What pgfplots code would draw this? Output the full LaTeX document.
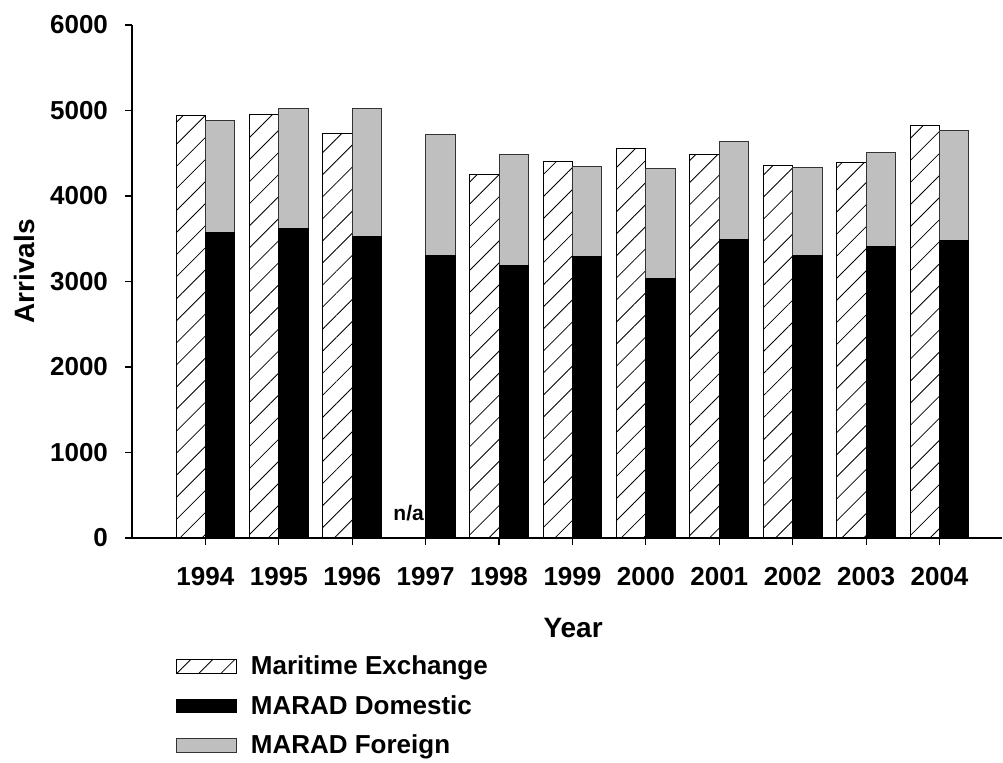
\documentclass[border=0pt]{standalone}
\usepackage{pgfplots}
\pgfplotsset{compat=1.18}
\usepackage{pgfplotstable}
\usetikzlibrary{patterns.meta}
\usepackage{fontspec}
\setmainfont{Liberation Sans}

\pgfplotstableread{
year me   dom  for
1994 4936 3579 1302
1995 4951 3618 1408
1996 4729 3532 1494
1997 nan  3310 1412
1998 4249 3185 1298
1999 4406 3290 1057
2000 4558 3041 1278
2001 4483 3497 1143
2002 4359 3310 1026
2003 4394 3407 1104
2004 4827 3474 1298
}\arrivals

\tikzset{
  mehatch/.style={draw=black, line width=0.5pt,
    pattern={Lines[angle=45, distance=7.8pt, line width=0.4pt]}},
  domfill/.style={draw=black, line width=0.5pt, fill=black},
  forfill/.style={draw=black!80, line width=0.5pt, fill=black!25},
}

\begin{document}
\begin{tikzpicture}
\path[use as bounding box] (-66pt,-112pt) rectangle (435.5pt,269pt);
\begin{axis}[
  at={(0,0)}, anchor=south west,
  scale only axis, width=435pt, height=256.5pt,
  xmin=1993, xmax=2004.85, ymin=0, ymax=6000,
  axis x line*=bottom, axis y line*=left,
  axis line style={-, line width=0.6pt},
  xtick={1994,...,2004}, ytick={0,1000,...,6000},
  tick align=outside, major tick length=3.5pt,
  tick style={black, line width=0.6pt},
  /pgf/number format/assume math mode=true,
  /pgf/number format/1000 sep={},
  ticklabel style={font=\bfseries\fontsize{13}{15}\selectfont},
  xticklabel style={yshift=-7.5pt},
  yticklabel style={xshift=-5pt},
  xlabel={Year}, ylabel={Arrivals},
  label style={font=\bfseries\fontsize{14}{16}\selectfont},
  xlabel style={at={(axis description cs:0.507,-0.175)}, anchor=center},
  ylabel style={at={(axis description cs:-0.123,0.52)}, anchor=center},
  legend style={at={(axis description cs:0.05,-0.221)}, anchor=north west,
    draw=none, fill=none, inner xsep=0pt, inner ysep=0pt,
    font=\bfseries\fontsize{13}{15}\selectfont, row sep=4.8pt},
  legend cell align=left,
  legend image code/.code={\draw[#1] (0pt,-3.4pt) rectangle (30pt,3.4pt);
    \path (35pt,0pt);},
  bar width=14.7pt,
]
\addplot[ybar, bar shift=-7.35pt, mehatch, forget plot]
  table[x=year, y=me] {\arrivals};
\addplot[ybar, bar shift=7.35pt, forfill, forget plot]
  table[x=year, y expr=\thisrow{dom}+\thisrow{for}] {\arrivals};
\addplot[ybar, bar shift=7.35pt, domfill, forget plot]
  table[x=year, y=dom] {\arrivals};
\node[font=\bfseries\fontsize{10.5}{12}\selectfont, xshift=-8.5pt]
  at (axis cs:1997,290) {n/a};
\addlegendimage{mehatch}
\addlegendentry{Maritime Exchange}
\addlegendimage{domfill}
\addlegendentry{MARAD Domestic}
\addlegendimage{forfill}
\addlegendentry{MARAD Foreign}
\end{axis}
\end{tikzpicture}
\end{document}
